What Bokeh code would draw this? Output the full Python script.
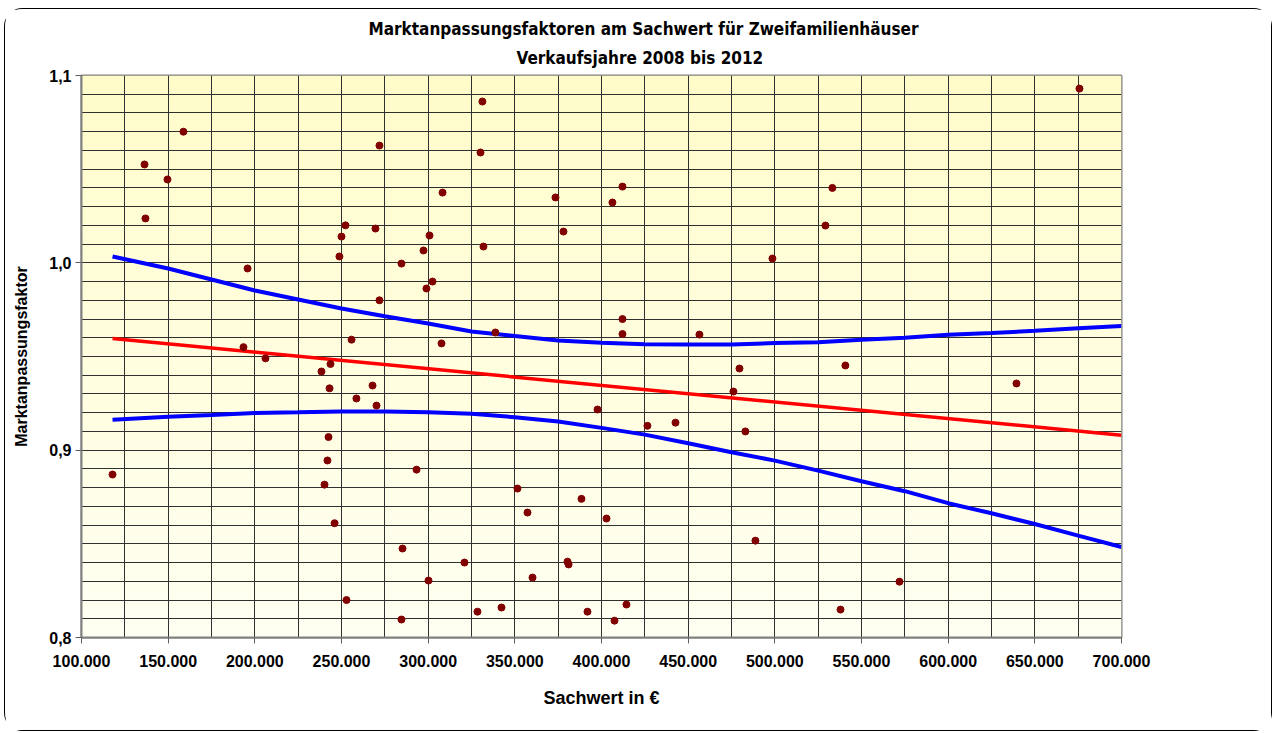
import numpy as np
from bokeh.plotting import figure
from bokeh.models import Range1d, FixedTicker, Title
from bokeh.embed import file_html
from bokeh.resources import INLINE

# ---------------- data ----------------
sachwert = [117900, 136350, 136900, 149600, 158800, 195800, 193450, 206150, 238450, 243650,
            243100, 242500, 241900, 240200, 246000, 252900, 248800, 250000, 252300, 255800,
            258600, 267900, 269600, 271900, 270200, 271900, 284600, 285200, 284600, 293300,
            297300, 299000, 300800, 302500, 300200, 307700, 308300, 320950, 328450, 330200,
            331300, 331900, 338800, 342300, 351500, 357300, 360200, 373450, 378050, 380400,
            381000, 388450, 391900, 397700, 402900, 406300, 407500, 412100, 412100, 412100,
            414400, 426500, 442700, 456500, 476100, 479600, 483000, 488800, 498600, 529200,
            533200, 537900, 540700, 571900, 639400, 675750]
faktor = [0.887, 1.0525, 1.0237, 1.0445, 1.070, 0.997, 0.955, 0.949, 0.942, 0.946,
          0.933, 0.907, 0.8945, 0.8816, 0.861, 0.820, 1.0034, 1.014, 1.020, 0.959,
          0.9276, 0.9345, 1.0183, 1.0626, 0.9238, 0.980, 0.9996, 0.8475, 0.8096, 0.8896,
          1.0066, 0.9863, 1.0146, 0.990, 0.8304, 0.957, 1.0375, 0.840, 0.8138, 1.0589,
          1.0861, 1.0087, 0.9628, 0.816, 0.8795, 0.8667, 0.832, 1.0349, 1.0167, 0.8405,
          0.839, 0.874, 0.8138, 0.9217, 0.8635, 1.0322, 0.809, 1.0407, 0.970, 0.962,
          0.8176, 0.913, 0.9147, 0.9617, 0.9313, 0.9436, 0.910, 0.8517, 1.0023, 1.0199,
          1.040, 0.8149, 0.9452, 0.8298, 0.9356, 1.093]

reg_x = [117900, 700000]
reg_y = [0.9596, 0.9080]

band_x = [117900, 150000, 175000, 200000, 225000, 250000, 275000, 300000, 325000, 350000,
          375000, 400000, 425000, 450000, 475000, 500000, 525000, 550000, 575000, 600000,
          625000, 650000, 675000, 700000]
band_upper = [1.0034, 0.9970, 0.9911, 0.9852, 0.9804, 0.9756, 0.9715, 0.9676, 0.9633, 0.9610,
              0.9585, 0.9573, 0.9565, 0.9564, 0.9564, 0.9572, 0.9576, 0.9589, 0.9600, 0.9616,
              0.9626, 0.9637, 0.9651, 0.9663]
band_lower = [0.9162, 0.9178, 0.9188, 0.9199, 0.9202, 0.9206, 0.9206, 0.9203, 0.9194, 0.9176,
              0.9153, 0.9119, 0.9083, 0.9037, 0.8989, 0.8944, 0.8891, 0.8834, 0.8781, 0.8717,
              0.8663, 0.8606, 0.8544, 0.8483]

x_ticks = [100000, 150000, 200000, 250000, 300000, 350000, 400000, 450000, 500000, 550000, 600000, 650000, 700000]
x_labels = ["100.000", "150.000", "200.000", "250.000", "300.000", "350.000", "400.000",
            "450.000", "500.000", "550.000", "600.000", "650.000", "700.000"]
y_ticks = [0.8, 0.9, 1.0, 1.1]
y_labels = ["0,8", "0,9", "1,0", "1,1"]

title1 = "Marktanpassungsfaktoren am Sachwert für Zweifamilienhäuser"
title2 = "Verkaufsjahre 2008 bis 2012"
x_title = "Sachwert in €"
y_title = "Marktanpassungsfaktor"

# ---------------- figure ----------------
NARROW = "'Liberation Sans Narrow', 'Arial Narrow', 'DejaVu Sans Condensed', sans-serif"
SANS = "'Liberation Sans', Arial, sans-serif"

X0, X1, Y0, Y1 = 100000, 700000, 0.8, 1.1
p = figure(frame_width=1040, frame_height=562,
           x_range=Range1d(X0, X1), y_range=Range1d(Y0, Y1),
           output_backend="svg", toolbar_location=None,
           min_border_left=76, min_border_right=150, min_border_top=66, min_border_bottom=93,
           background_fill_color="#fffff5", border_fill_color="white")
p.styles = {"border": "1px solid black", "border-radius": "18px",
            "margin": "8px 0px 0px 4px"}

# subtitle first (closest to the frame), then main title above it
p.add_layout(Title(text=title2, align="left", offset=435, text_font=NARROW, text_font_style="bold",
                   text_font_size="17px", text_color="black", standoff=15), "above")
p.add_layout(Title(text=title1, align="left", offset=287, text_font=NARROW, text_font_style="bold",
                   text_font_size="17px", text_color="black", standoff=0), "above")

# gradient background
n = 64
grad = np.zeros((n, 1), dtype=np.uint32)
view = grad.view(dtype=np.uint8).reshape((n, 1, 4))
for i in range(n):
    t = i / (n - 1)  # 0 bottom -> 1 top
    view[i, 0, 0] = 255
    view[i, 0, 1] = int(round(255 - 3 * t))
    view[i, 0, 2] = int(round(242 - 40 * t))
    view[i, 0, 3] = 255
img = p.image_rgba(image=[grad], x=X0, y=Y0, dw=X1 - X0, dh=Y1 - Y0)
img.level = "image"

# grid
p.xgrid.ticker = FixedTicker(ticks=list(range(X0, X1 + 1, 25000)))
p.ygrid.ticker = FixedTicker(ticks=[round(0.8 + 0.01 * k, 2) for k in range(31)])
for g in (p.xgrid, p.ygrid):
    g.grid_line_color = "#303030"
    g.grid_line_width = 1

# axes
p.xaxis.ticker = FixedTicker(ticks=x_ticks)
p.xaxis.major_label_overrides = {t: l for t, l in zip(x_ticks, x_labels)}
p.yaxis.ticker = FixedTicker(ticks=y_ticks)
p.yaxis.major_label_overrides = {t: l for t, l in zip(y_ticks, y_labels)}
for ax in (p.xaxis, p.yaxis):
    ax.axis_line_color = "#808080"
    ax.axis_line_width = 2
    ax.major_tick_line_color = "#606060"
    ax.major_tick_line_width = 1
    ax.major_tick_in = 0
    ax.major_tick_out = 6
    ax.minor_tick_line_color = None
    ax.major_label_text_font = SANS
    ax.major_label_text_font_style = "bold"
    ax.major_label_text_font_size = "16px"
    ax.major_label_text_color = "black"
    ax.axis_label_text_font = SANS
    ax.axis_label_text_font_style = "bold"
    ax.axis_label_text_font_size = "16px"
    ax.axis_label_text_color = "black"
p.xaxis.axis_label_text_font_size = "18px"
p.xaxis.axis_label = x_title
p.yaxis.axis_label = y_title
p.xaxis.major_label_standoff = 11
p.yaxis.major_label_standoff = 4
p.xaxis.axis_label_standoff = 18
p.yaxis.axis_label_standoff = 16
p.outline_line_color = "#808080"
p.outline_line_width = 2

# confidence band and regression
p.line(band_x, band_upper, line_color="#0000ff", line_width=4)
p.line(band_x, band_lower, line_color="#0000ff", line_width=4)
p.line(reg_x, reg_y, line_color="#ff0000", line_width=3.5)

# points
p.scatter(sachwert, faktor, size=7, marker="circle", fill_color="#800000", line_color="#800000")

open("out.html", "w").write(file_html(p, INLINE))
